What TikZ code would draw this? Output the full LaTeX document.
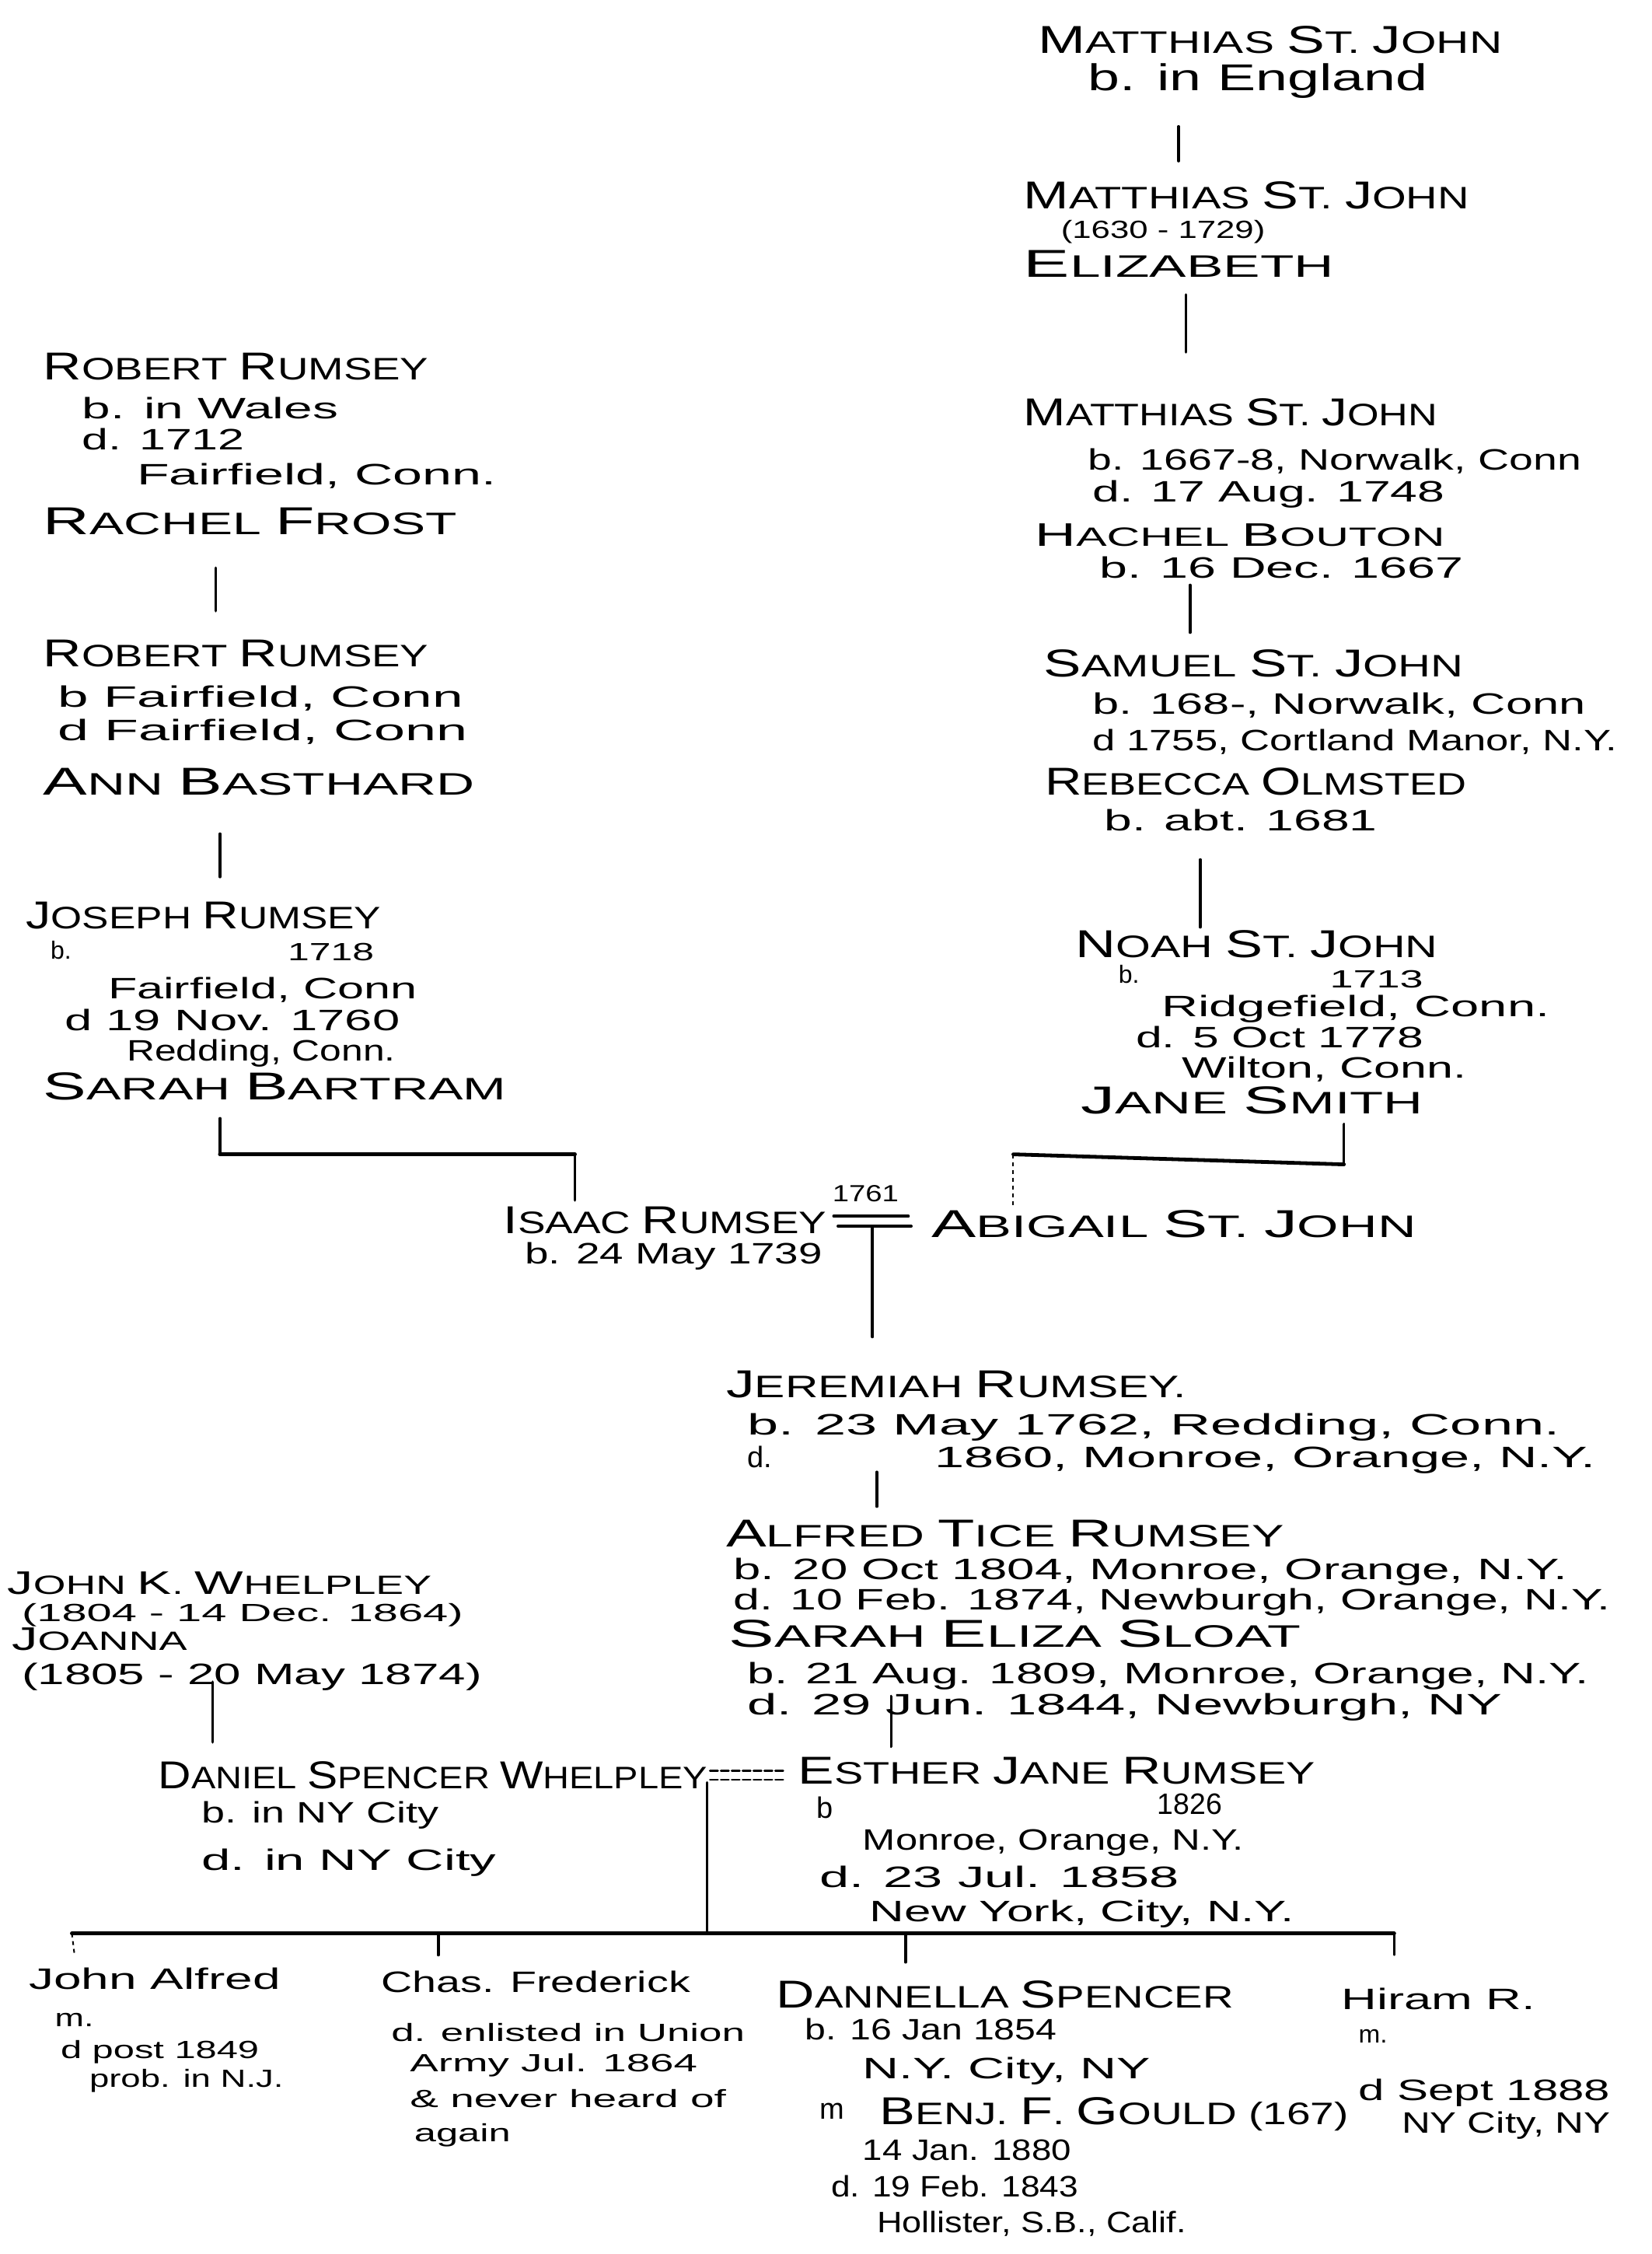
\documentclass[tikz,border=0pt]{standalone}
\usepackage{graphicx}
\usepackage{fontspec}
\setmainfont{Liberation Sans}
\newlength\gunit
\setlength\gunit{0.9245pt}
% stretch a line of text horizontally to a given width (in drawing units)
\newcommand\fw[2]{\resizebox{#1\gunit}{\height}{#2}}
% hand-lettered small capitals: large initial, smaller rest
\newcommand\W[2]{{\fontsize{25}{25}\selectfont #1}#2}
\newcommand\Ws[2]{{\fontsize{21}{21}\selectfont #1}#2}
\tikzset{
  nm/.style={anchor=base west, inner sep=0pt, font=\fontsize{20}{22}\selectfont},
  nms/.style={anchor=base west, inner sep=0pt, font=\fontsize{17}{19}\selectfont},
  dt/.style={anchor=base west, inner sep=0pt, font=\fontsize{19}{21}\selectfont},
  sm/.style={anchor=base west, inner sep=0pt, font=\fontsize{16}{18}\selectfont},
  link/.style={line width=1.8pt, line cap=round},
  bar/.style={line width=2.4pt, line cap=round},
  faint/.style={line width=1pt, dash pattern=on 2.5pt off 2.5pt},
}
\begin{document}
\begin{tikzpicture}[x=0.9245pt, y=-0.9245pt]
\fill[white] (0,0) rectangle (1149,1568);
\useasboundingbox (0,0) rectangle (1149,1568);

% ---------------- St. John line ----------------
\node[nm] (ms1a) at (722,37) {\fw{323}{\W{M}{ATTHIAS} \W{S}{T}. \W{J}{OHN}}};
\node[dt, font=\fontsize{24}{26}\selectfont] (ms1b) at (757,63) {\fw{236}{b. in England}};

\node[nm] (ms2a) at (712,145) {\fw{310}{\W{M}{ATTHIAS} \W{S}{T}. \W{J}{OHN}}};
\node[sm] (ms2b) at (738,166) {\fw{142}{(1630 - 1729)}};
\node[nm] (ms2c) at (712,193) {\fw{216}{\W{E}{LIZABETH}}};

\node[nm] (ms3a) at (712,296) {\fw{288}{\W{M}{ATTHIAS} \W{S}{T}. \W{J}{OHN}}};
\node[dt] (ms3b) at (757,327) {\fw{343}{b. 1667-8, Norwalk, Conn}};
\node[dt] (ms3c) at (760,349) {\fw{245}{d. 17 Aug. 1748}};
\node[nms] (ms3d) at (720,380) {\fw{285}{\Ws{H}{ACHEL} \Ws{B}{OUTON}}};
\node[dt] (ms3e) at (765,402) {\fw{253}{b. 16 Dec. 1667}};

\node[nm] (ss1a) at (726,471) {\fw{292}{\W{S}{AMUEL} \W{S}{T}. \W{J}{OHN}}};
\node[dt] (ss1b) at (760,497) {\fw{343}{b. 168-, Norwalk, Conn}};
\node[dt] (ss1c) at (760,522) {\fw{365}{d 1755, Cortland Manor, N.Y.}};
\node[nm] (ss1d) at (727,553) {\fw{293}{\W{R}{EBECCA} \W{O}{LMSTED}}};
\node[dt] (ss1e) at (768,578) {\fw{190}{b. abt. 1681}};

\node[nm] (ns1a) at (748,666) {\fw{252}{\W{N}{OAH} \W{S}{T}. \W{J}{OHN}}};
\node[sm] (ns1b) at (778,684) {b.};
\node[sm] (ns1y) at (925,687) {\fw{65}{1713}};
\node[dt] (ns1c) at (808,707) {\fw{270}{Ridgefield, Conn.}};
\node[dt] (ns1d) at (790,729) {\fw{200}{d. 5 Oct 1778}};
\node[dt] (ns1e) at (822,750) {\fw{198}{Wilton, Conn.}};
\node[nm] (ns1f) at (752,775) {\fw{238}{\W{J}{ANE} \W{S}{MITH}}};

% ---------------- Rumsey line ----------------
\node[nm] (rr1a) at (30,264) {\fw{268}{\W{R}{OBERT} \W{R}{UMSEY}}};
\node[dt] (rr1b) at (57,291) {\fw{178}{b. in Wales}};
\node[dt] (rr1c) at (57,313) {\fw{113}{d. 1712}};
\node[dt] (rr1d) at (95,337) {\fw{250}{Fairfield, Conn.}};
\node[nm] (rr1e) at (30,372) {\fw{288}{\W{R}{ACHEL} \W{F}{ROST}}};

\node[nm] (rr2a) at (30,464) {\fw{268}{\W{R}{OBERT} \W{R}{UMSEY}}};
\node[dt] (rr2b) at (40,492) {\fw{282}{b Fairfield, Conn}};
\node[dt] (rr2c) at (40,515) {\fw{285}{d Fairfield, Conn}};
\node[nm] (rr2d) at (30,553) {\fw{300}{\W{A}{NN} \W{B}{ASTHARD}}};

\node[nm] (jr1a) at (18,646) {\fw{247}{\W{J}{OSEPH} \W{R}{UMSEY}}};
\node[sm] (jr1b) at (35,667) {b.};
\node[sm] (jr1y) at (200,668) {\fw{60}{1718}};
\node[dt] (jr1c) at (75,695) {\fw{215}{Fairfield, Conn}};
\node[dt] (jr1d) at (45,717) {\fw{233}{d 19 Nov. 1760}};
\node[dt] (jr1e) at (88,738) {\fw{187}{Redding, Conn.}};
\node[nm] (jr1f) at (30,765) {\fw{322}{\W{S}{ARAH} \W{B}{ARTRAM}}};

% ---------------- Isaac & Abigail ----------------
\node[nm] (ir) at (350,858) {\fw{225}{\W{I}{SAAC} \W{R}{UMSEY}}};
\node[dt] (irb) at (365,879) {\fw{207}{b. 24 May 1739}};
\node[sm, font=\fontsize{15}{17}\selectfont] (wed1) at (579,836) {\fw{46}{1761}};
\node[nm] (ab) at (648,861) {\fw{337}{\W{A}{BIGAIL} \W{S}{T}. \W{J}{OHN}}};

\node[nm] (jm1a) at (505,972) {\fw{320}{\W{J}{EREMIAH} \W{R}{UMSEY}.}};
\node[dt] (jm1b) at (520,998) {\fw{565}{b. 23 May 1762, Redding, Conn.}};
\node[dt] (jm1c) at (520,1021) {d.};
\node[dt] (jm1d) at (650,1021) {\fw{460}{1860, Monroe, Orange, N.Y.}};

\node[nm] (at1a) at (505,1076) {\fw{388}{\W{A}{LFRED} \W{T}{ICE} \W{R}{UMSEY}}};
\node[dt] (at1b) at (510,1099) {\fw{580}{b. 20 Oct 1804, Monroe, Orange, N.Y.}};
\node[dt] (at1c) at (510,1120) {\fw{610}{d. 10 Feb. 1874, Newburgh, Orange, N.Y.}};
\node[nm] (at1d) at (507,1146) {\fw{398}{\W{S}{ARAH} \W{E}{LIZA} \W{S}{LOAT}}};
\node[dt] (at1e) at (520,1171) {\fw{585}{b. 21 Aug. 1809, Monroe, Orange, N.Y.}};
\node[dt] (at1f) at (520,1193) {\fw{525}{d. 29 Jun. 1844, Newburgh, NY}};

\node[nm] (ej1a) at (555,1241) {\fw{360}{\W{E}{STHER} \W{J}{ANE} \W{R}{UMSEY}}};
\node[dt] (ej1b) at (568,1265) {b};
\node[dt] (ej1y) at (805,1262) {\fw{45}{1826}};
\node[dt] (ej1c) at (600,1287) {\fw{265}{Monroe, Orange, N.Y.}};
\node[dt] (ej1d) at (570,1313) {\fw{250}{d. 23 Jul. 1858}};
\node[dt] (ej1e) at (605,1337) {\fw{295}{New York, City, N.Y.}};

% ---------------- Whelpley line ----------------
\node[nms] (jw1a) at (5,1109) {\fw{295}{\Ws{J}{OHN} \Ws{K}{.} \Ws{W}{HELPLEY}}};
\node[sm] (jw1b) at (15,1128) {\fw{307}{(1804 - 14 Dec. 1864)}};
\node[nms] (jw1c) at (8,1148) {\fw{122}{\Ws{J}{OANNA}}};
\node[dt] (jw1d) at (15,1172) {\fw{320}{(1805 - 20 May 1874)}};

\node[nm] (dw1a) at (110,1244) {\fw{382}{\W{D}{ANIEL} \W{S}{PENCER} \W{W}{HELPLEY}}};
\node[dt] (dw1b) at (140,1268) {\fw{165}{b. in NY City}};
\node[dt] (dw1c) at (140,1301) {\fw{205}{d. in NY City}};

% ---------------- children ----------------
\node[dt] (k1a) at (20,1384) {\fw{175}{John Alfred}};
\node[sm] (k1b) at (38,1410) {\fw{27}{m.}};
\node[sm] (k1c) at (42,1432) {\fw{138}{d post 1849}};
\node[sm] (k1d) at (62,1452) {\fw{135}{prob. in N.J.}};

\node[dt] (k2a) at (265,1386) {\fw{215}{Chas. Frederick}};
\node[sm] (k2b) at (272,1420) {\fw{246}{d. enlisted in Union}};
\node[sm] (k2c) at (285,1441) {\fw{200}{Army Jul. 1864}};
\node[sm] (k2d) at (285,1466) {\fw{220}{\& never heard of}};
\node[sm] (k2e) at (288,1490) {\fw{67}{again}};

\node[nm] (k3a) at (540,1397) {\fw{318}{\W{D}{ANNELLA} \W{S}{PENCER}}};
\node[dt] (k3b) at (560,1419) {\fw{175}{b. 16 Jan 1854}};
\node[dt] (k3c) at (600,1446) {\fw{200}{N.Y. City, NY}};
\node[dt] (k3d) at (570,1474) {m};
\node[nm] (k3e) at (612,1478) {\fw{326}{\W{B}{ENJ}. \W{F}{.} \W{G}{OULD} (167)}};
\node[dt] (k3f) at (600,1503) {\fw{145}{14 Jan. 1880}};
\node[dt] (k3g) at (578,1528) {\fw{172}{d. 19 Feb. 1843}};
\node[dt] (k3h) at (610,1553) {\fw{215}{Hollister, S.B., Calif.}};

\node[dt] (k4a) at (933,1398) {\fw{135}{Hiram R.}};
\node[sm] (k4b) at (945,1421) {\fw{20}{m.}};
\node[dt] (k4c) at (945,1461) {\fw{175}{d Sept 1888}};
\node[dt] (k4d) at (975,1484) {\fw{145}{NY City, NY}};

% ---------------- connector end points ----------------
\coordinate (s1-dn) at (820,88);   \coordinate (s2-up) at (820,112);
\coordinate (s2-dn) at (825,205);  \coordinate (s3-up) at (825,245);
\coordinate (s3-dn) at (828,407);  \coordinate (s4-up) at (828,440);
\coordinate (s4-dn) at (835,598);  \coordinate (s5-up) at (835,645);
\coordinate (s5-dn) at (935,782);  \coordinate (s5-cr) at (935,810);
\coordinate (ab-up) at (705,803);  \coordinate (ab-top) at (705,840);

\coordinate (r1-dn) at (150,395);  \coordinate (r2-up) at (150,425);
\coordinate (r2-dn) at (153,580);  \coordinate (r3-up) at (153,610);
\coordinate (r3-dn) at (153,778);  \coordinate (r3-cr) at (153,803);
\coordinate (ir-cr) at (400,803);  \coordinate (ir-top) at (400,835);

\coordinate (m1-l) at (580,846);   \coordinate (m1-r) at (632,846);
\coordinate (m2-l) at (583,853);   \coordinate (m2-r) at (634,853);
\coordinate (m-dn) at (607,853);   \coordinate (jm-up) at (607,930);
\coordinate (jm-dn) at (610,1024); \coordinate (at-up) at (610,1048);
\coordinate (at-dn) at (620,1180); \coordinate (ej-up) at (620,1215);
\coordinate (jw-dn) at (148,1170); \coordinate (dw-up) at (148,1212);

\coordinate (m3-l) at (494,1232);  \coordinate (m3-r) at (547,1232);
\coordinate (m4-l) at (494,1238);  \coordinate (m4-r) at (547,1238);
\coordinate (kid-dn) at (492,1240); \coordinate (kid-bar) at (492,1345);
\coordinate (bar-l) at (50,1345);  \coordinate (bar-r) at (970,1345);
\coordinate (k1-up) at (52,1361);
\coordinate (k2-t) at (305,1345);  \coordinate (k2-up) at (305,1360);
\coordinate (k3-t) at (630,1345);  \coordinate (k3-up) at (630,1365);
\coordinate (k4-up) at (970,1360);

% ---------------- connectors ----------------
\draw[link] (s1-dn) -- (s2-up);
\draw[link] (s2-dn) -- (s3-up);
\draw[link] (s3-dn) -- (s4-up);
\draw[link] (s4-dn) -- (s5-up);
\draw[link] (s5-dn) -- (s5-cr);
\draw[bar] (s5-cr) -- (ab-up);
\draw[faint] (ab-up) -- (ab-top);

\draw[link] (r1-dn) -- (r2-up);
\draw[link] (r2-dn) -- (r3-up);
\draw[link] (r3-dn) -- (r3-cr);
\draw[bar] (r3-cr) -- (ir-cr);
\draw[link] (ir-cr) -- (ir-top);

\draw[link] (m1-l) -- (m1-r);
\draw[link] (m2-l) -- (m2-r);
\draw[link] (m-dn) -- (jm-up);
\draw[link] (jm-dn) -- (at-up);
\draw[link] (at-dn) -- (ej-up);
\draw[link] (jw-dn) -- (dw-up);

\draw[link, line width=1.4pt, dash pattern=on 5pt off 2pt] (m3-l) -- (m3-r);
\draw[link, line width=1.4pt, dash pattern=on 5pt off 2pt] (m4-l) -- (m4-r);
\draw[link] (kid-dn) -- (kid-bar);
\draw[bar] (bar-l) -- (bar-r);
\draw[faint] (bar-l) -- (k1-up);
\draw[link] (k2-t) -- (k2-up);
\draw[link] (k3-t) -- (k3-up);
\draw[link, line width=1.2pt] (bar-r) -- (k4-up);
\end{tikzpicture}
\end{document}
